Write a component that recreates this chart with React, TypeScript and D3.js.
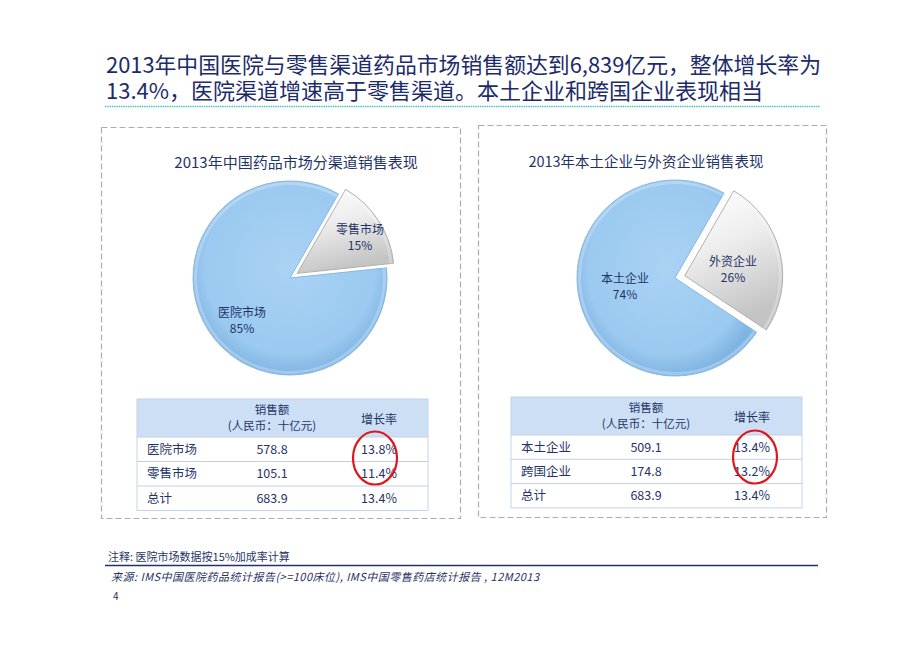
import React from 'react';
import * as d3 from 'd3';

const titleLines = ['2013年中国医院与零售渠道药品市场销售额达到6,839亿元，整体增长率为', '13.4%，医院渠道增速高于零售渠道。本土企业和跨国企业表现相当'];

const channelLabels = ['零售市场', '医院市场'];
const channelShares = [15, 85];
const companyLabels = ['外资企业', '本土企业'];
const companyShares = [26, 74];

const leftRows = ['医院市场', '零售市场', '总计'];
const leftSales = [578.8, 105.1, 683.9];
const leftGrowth = [13.8, 11.4, 13.4];
const rightRows = ['本土企业', '跨国企业', '总计'];
const rightSales = [509.1, 174.8, 683.9];
const rightGrowth = [13.4, 13.2, 13.4];

const NAVY = '#1f3466';
const FONT = '"Noto Sans CJK SC", "Noto Sans", sans-serif';

type PieProps = {
  cx: number; cy: number; r: number; labels: string[]; values: number[];
  labelPos: [number, number][]; explode: number; id: string;
};

function Pie({ cx, cy, r, labels, values, labelPos, explode, id }: PieProps) {
  const pie = d3.pie<number>().sort(null).startAngle((30 * Math.PI) / 180).endAngle((30 * Math.PI) / 180 + 2 * Math.PI);
  const arcs = pie(values);
  const arc = d3.arc<d3.PieArcDatum<number>>().innerRadius(0).outerRadius(r);
  const rim = d3.arc<d3.PieArcDatum<number>>().innerRadius(r - 4).outerRadius(r - 1);
  return (
    <g>
      <defs>
        <radialGradient id={`${id}-blue`} cx="50%" cy="45%" r="55%">
          <stop offset="0%" stopColor="#a9d3f5" />
          <stop offset="80%" stopColor="#9bc9ef" />
          <stop offset="100%" stopColor="#7fb4e2" />
        </radialGradient>
        <linearGradient id={`${id}-gray`} x1="0" y1="0" x2="0.3" y2="1">
          <stop offset="0%" stopColor="#ffffff" />
          <stop offset="45%" stopColor="#eeeeee" />
          <stop offset="100%" stopColor="#c4c4c4" />
        </linearGradient>
      </defs>
      {arcs.map((a, i) => {
        const mid = (a.startAngle + a.endAngle) / 2;
        const off = i === 0 ? explode : 0;
        const dx = Math.sin(mid) * off;
        const dy = -Math.cos(mid) * off;
        return (
          <g key={i} transform={`translate(${cx + dx},${cy + dy})`}>
            <path d={arc(a) || ''} fill={i === 0 ? `url(#${id}-gray)` : `url(#${id}-blue)`}
              stroke={i === 0 ? '#b0b0b0' : '#86b9e4'} strokeWidth={1} />
            <path d={rim(a) || ''} fill="#ffffff" opacity={0.25} />
          </g>
        );
      })}
      {arcs.map((a, i) => (
        <text key={`t${i}`} x={labelPos[i][0]} y={labelPos[i][1]} textAnchor="middle" fill={NAVY}
          fontSize={12} fontFamily={FONT}>
          <tspan x={labelPos[i][0]} dy={0}>{labels[i]}</tspan>
          <tspan x={labelPos[i][0]} dy={16}>{`${values[i]}%`}</tspan>
        </text>
      ))}
    </g>
  );
}

type TableProps = {
  x: number; y: number; w: number; rows: string[]; sales: number[]; growth: number[];
  salesX: number; growthX: number; headH: number; rowH: number; circle: [number, number];
};

function Table({ x, y, w, rows, sales, growth, salesX, growthX, headH, rowH, circle }: TableProps) {
  const rowY = d3.range(rows.length).map((i) => y + headH + i * rowH);
  const h = headH + rows.length * rowH;
  return (
    <g fontFamily={FONT} fill={NAVY}>
      <rect x={x} y={y} width={w} height={headH} fill="#cddff5" />
      <rect x={x} y={y} width={w} height={h} fill="none" stroke="#c3d4ea" strokeWidth={1} />
      {rowY.map((ry, i) => (
        <line key={i} x1={x} x2={x + w} y1={ry} y2={ry} stroke="#c0cfe6" strokeWidth={1} />
      ))}
      <text x={salesX} y={y + 15} textAnchor="middle" fontSize={11.5}>销售额</text>
      <text x={salesX} y={y + 31} textAnchor="middle" fontSize={11.5}>(人民币：十亿元)</text>
      <text x={growthX} y={y + 25} textAnchor="middle" fontSize={12}>增长率</text>
      {rows.map((r, i) => (
        <g key={r} fontSize={12.5}>
          <text x={x + 10} y={rowY[i] + rowH / 2 + 4.5}>{r}</text>
          <text x={salesX} y={rowY[i] + rowH / 2 + 4.5} textAnchor="middle">{sales[i].toFixed(1)}</text>
          <text x={growthX} y={rowY[i] + rowH / 2 + 4.5} textAnchor="middle">{`${growth[i].toFixed(1)}%`}</text>
        </g>
      ))}
      <ellipse cx={circle[0]} cy={circle[1]} rx={22} ry={26.5} fill="none" stroke="#e0141b" strokeWidth={2.2} />
    </g>
  );
}

export default function App() {
  return (
    <svg width={920} height={651} style={{ position: 'absolute', left: 0, top: 0, background: '#ffffff' }}>
      <rect x={0} y={0} width={920} height={651} fill="#ffffff" />
      <g fontFamily={FONT} fill="#1c2b6a" fontSize={22}>
        <text x={106} y={73} textLength={715} lengthAdjust="spacingAndGlyphs">{titleLines[0]}</text>
        <text x={106} y={99}>{titleLines[1]}</text>
      </g>
      <line x1={105} x2={820} y1={106.5} y2={106.5} stroke="#52c2c6" strokeWidth={1.6} strokeDasharray="1.5 0.8" />

      <rect x={101.5} y={127.5} width={359} height={391} fill="none" stroke="#b3a8b6" strokeWidth={1.2} strokeDasharray="6 3" />
      <rect x={478.5} y={125.5} width={348} height={392} fill="none" stroke="#b3a8b6" strokeWidth={1.2} strokeDasharray="6 3" />

      <text x={296} y={168} textAnchor="middle" fontFamily={FONT} fontSize={15} fill={NAVY}>2013年中国药品市场分渠道销售表现</text>
      <text x={646} y={167} textAnchor="middle" fontFamily={FONT} fontSize={14.5} fill={NAVY}>2013年本土企业与外资企业销售表现</text>

      <Pie id="p1" cx={290} cy={278} r={97} labels={channelLabels} values={channelShares}
        labelPos={[[360, 234], [242, 317]]} explode={8.5} />
      <Pie id="p2" cx={675} cy={278} r={98} labels={companyLabels} values={companyShares}
        labelPos={[[733, 266], [625, 283]]} explode={10} />

      <Table x={137} y={399} w={291} rows={leftRows} sales={leftSales} growth={leftGrowth}
        salesX={272} growthX={379} headH={38} rowH={24.5} circle={[375, 458]} />
      <Table x={511} y={397} w={291} rows={rightRows} sales={rightSales} growth={rightGrowth}
        salesX={646} growthX={752} headH={38} rowH={24.3} circle={[755, 457]} />

      <text x={108} y={561} fontFamily={FONT} fontSize={11} fill={NAVY}>注释: 医院市场数据按15%加成率计算</text>
      <line x1={105} x2={818} y1={565.5} y2={565.5} stroke="#1f3466" strokeWidth={1.5} />
      <text x={111} y={581} fontFamily={FONT} fontSize={11} fontStyle="italic" fill={NAVY}
        textLength={428} lengthAdjust="spacing">来源: IMS中国医院药品统计报告(&gt;=100床位), IMS中国零售药店统计报告 , 12M2013</text>
      <text x={113} y={600} fontFamily={FONT} fontSize={10} fill={NAVY}>4</text>
    </svg>
  );
}
